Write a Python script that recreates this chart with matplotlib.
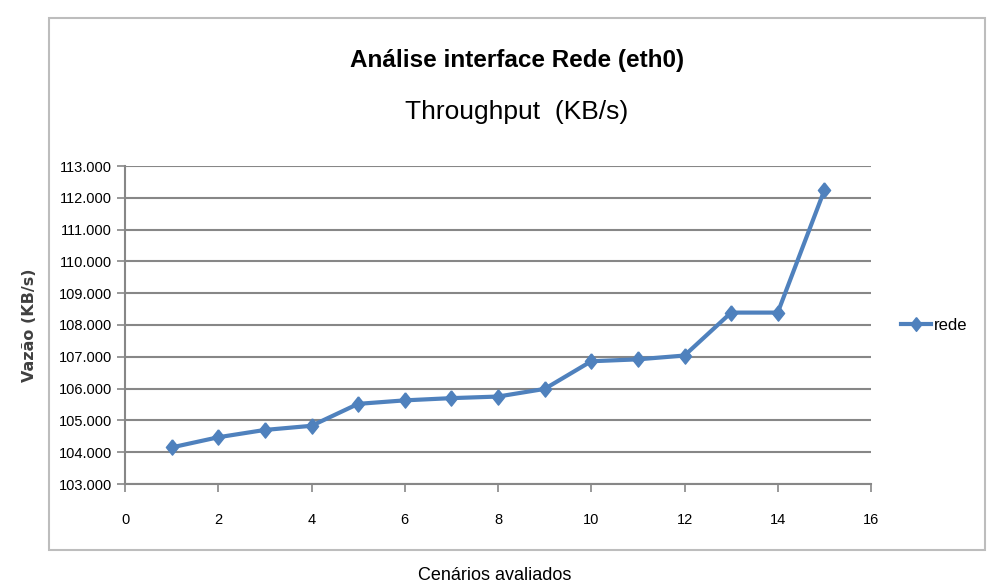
import matplotlib.pyplot as plt
from matplotlib.patches import Rectangle
from matplotlib.ticker import FuncFormatter

# data
cenarios = list(range(1, 16))
vazao = [104.15, 104.47, 104.70, 104.83, 105.52, 105.63, 105.70, 105.75,
         105.99, 106.86, 106.92, 107.04, 108.39, 108.39, 112.24]
x_ticks = list(range(0, 17, 2))
y_ticks = list(range(103, 114))

LINE = "#4F81BD"
GRID = "#878787"
FONT = ["Liberation Sans", "DejaVu Sans"]
DIAMOND = [(0, 1), (0.8, 0), (0, -1), (-0.8, 0), (0, 1)]

W, H = 996, 588
fig = plt.figure(figsize=(W / 100, H / 100), dpi=100)
plt.rcParams['font.family'] = FONT

# chart border (excel style)
fig.patches.append(Rectangle((49 / W, 1 - 550 / H), 936 / W, 532 / H,
                             transform=fig.transFigure, facecolor="none",
                             edgecolor="#bdbdbd", linewidth=1.5, zorder=0))

ax = fig.add_axes([125 / W, 1 - 484 / H, (871 - 125) / W, (484 - 166) / H])
ax.plot(cenarios, vazao, color=LINE, lw=3, marker=DIAMOND, ms=11,
        markeredgecolor=LINE, label="rede", zorder=3)
ax.set_xlim(0, 16)
ax.set_ylim(103, 113)
ax.set_xticks(x_ticks)
ax.set_yticks(y_ticks)
ax.yaxis.set_major_formatter(FuncFormatter(lambda v, p: f"{int(v)}.000"))
ax.grid(axis="y", color=GRID, lw=1.5)
ax.set_axisbelow(True)
for s in ["top", "right"]:
    ax.spines[s].set_visible(False)
for s in ["left", "bottom"]:
    ax.spines[s].set_color(GRID)
    ax.spines[s].set_linewidth(1.5)
ax.tick_params(axis="both", colors=GRID, labelcolor="black", labelsize=10.5,
               width=1.2, length=6)
ax.tick_params(axis="x", pad=15)

fig.text(517 / W, 1 - 60 / H, "Análise interface Rede (eth0)", ha="center",
         va="center", fontsize=17.5, fontweight="bold")
fig.text(517 / W, 1 - 112 / H, "Throughput  (KB/s)", ha="center",
         va="center", fontsize=19)
fig.text(30 / W, 1 - 325 / H, "Vazão (KB/s)", rotation=90, ha="center",
         va="center", fontsize=11.5, fontweight="bold", color="#404040",
         family=["DejaVu Sans"])
fig.text(495 / W, 1 - 575 / H, "Cenários avaliados", ha="center",
         va="center", fontsize=13)

ax.legend(loc="center left", bbox_to_anchor=(1.02, 0.5), frameon=False,
          fontsize=12, handlelength=1.8, handletextpad=0.2, markerscale=0.9)

fig.savefig("out.png", dpi=100)
